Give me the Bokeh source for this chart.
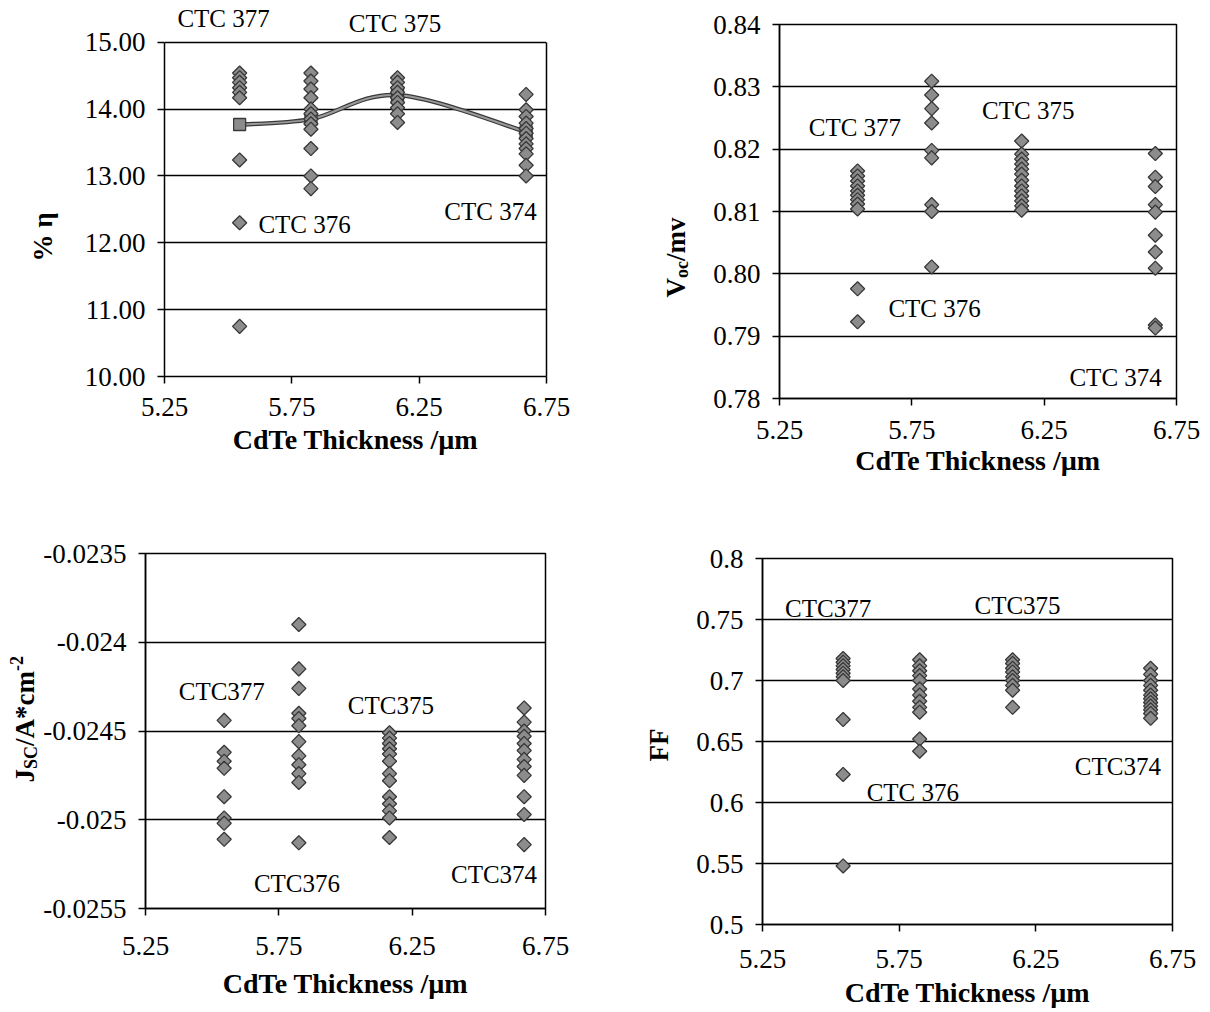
import numpy as np
from bokeh.plotting import figure
from bokeh.layouts import column, row
from bokeh.models import Label, FixedTicker, Range1d, CustomJSTickFormatter, LinearAxis
from bokeh.core.properties import value
from bokeh.embed import file_html
from bokeh.resources import INLINE

# ---------------- data ----------------
SAMPLES = ["CTC 377", "CTC 376", "CTC 375", "CTC 374"]
SAMPLE_X = [5.545, 5.825, 6.165, 6.67]          # CdTe thickness / um

X_TICKS = [5.25, 5.75, 6.25, 6.75]
X_TICK_LABELS = ["5.25", "5.75", "6.25", "6.75"]

# efficiency (%)
eta_377 = [14.54, 14.47, 14.40, 14.32, 14.25, 14.17, 13.24, 12.30, 10.75]
eta_376 = [14.54, 14.42, 14.30, 14.17, 14.00, 13.93, 13.85, 13.78, 13.70, 13.41, 13.00, 12.81]
eta_375 = [14.47, 14.40, 14.32, 14.25, 14.17, 14.10, 14.02, 13.93, 13.80]
eta_374 = [14.22, 13.99, 13.89, 13.79, 13.71, 13.64, 13.56, 13.48, 13.41, 13.33, 13.16, 13.00]
eta_mean = [13.77, 13.85, 14.21, 13.66]
ETA_TICKS = [10, 11, 12, 13, 14, 15]
ETA_TICK_LABELS = ["10.00", "11.00", "12.00", "13.00", "14.00", "15.00"]

# Voc
voc_377 = [0.8165, 0.8157, 0.8149, 0.8141, 0.8133, 0.8126, 0.8119, 0.8112, 0.8104, 0.7976, 0.7923]
voc_376 = [0.8309, 0.8287, 0.8265, 0.8242, 0.8198, 0.8186, 0.8111, 0.8100, 0.8011]
voc_375 = [0.8213, 0.8192, 0.8184, 0.8176, 0.8168, 0.8160, 0.8150, 0.8141, 0.8133, 0.8125, 0.8117, 0.8109, 0.8102]
voc_374 = [0.8193, 0.8155, 0.8140, 0.8111, 0.8099, 0.8062, 0.8035, 0.8009, 0.7918, 0.7913]
VOC_TICKS = [0.78, 0.79, 0.80, 0.81, 0.82, 0.83, 0.84]
VOC_TICK_LABELS = ["0.78", "0.79", "0.80", "0.81", "0.82", "0.83", "0.84"]

# Jsc
jsc_377 = [-0.02444, -0.02462, -0.02467, -0.02471, -0.02487, -0.02499, -0.02502, -0.02511]
jsc_376 = [-0.02390, -0.02415, -0.02426, -0.02440, -0.02443, -0.02447, -0.02456, -0.02464, -0.02469, -0.02474, -0.02479, -0.02513]
jsc_375 = [-0.02451, -0.02454, -0.02457, -0.02460, -0.02463, -0.02467, -0.02474, -0.02478, -0.02487, -0.02491, -0.02495, -0.02499, -0.02510]
jsc_374 = [-0.02437, -0.02445, -0.02450, -0.02453, -0.02457, -0.02461, -0.02466, -0.02470, -0.02475, -0.02487, -0.02497, -0.02514]
JSC_TICKS = [-0.0255, -0.025, -0.0245, -0.024, -0.0235]
JSC_TICK_LABELS = ["-0.0255", "-0.025", "-0.0245", "-0.024", "-0.0235"]

# Fill factor
ff_377 = [0.718, 0.715, 0.712, 0.709, 0.706, 0.703, 0.700, 0.668, 0.623, 0.548]
ff_376 = [0.717, 0.712, 0.708, 0.704, 0.700, 0.693, 0.688, 0.683, 0.678, 0.674, 0.652, 0.642]
ff_375 = [0.717, 0.714, 0.710, 0.707, 0.703, 0.700, 0.696, 0.692, 0.678]
ff_374 = [0.710, 0.705, 0.700, 0.696, 0.692, 0.688, 0.685, 0.682, 0.679, 0.676, 0.673, 0.669]
FF_TICKS = [0.5, 0.55, 0.6, 0.65, 0.7, 0.75, 0.8]
FF_TICK_LABELS = ["0.5", "0.55", "0.6", "0.65", "0.7", "0.75", "0.8"]

# ---------------- styling helpers ----------------
FONT = "Liberation Serif"
TICK_FS = "27px"
XTITLE_FS = "28px"
YTITLE_FS = "27px"
SMALL_FS = "18px"
ANN_FS = "25px"
FILL = "#8c8c8c"
EDGE = "#383838"


def make_fig(left, fw, right, top, fh, bottom, yrange, yticks, ylabels,
             lab_standoff, title_standoff, outline=True):
    p = figure(width=left + fw + right, height=top + fh + bottom,
               x_range=Range1d(5.25, 6.75), y_range=Range1d(*yrange),
               output_backend="svg", toolbar_location=None,
               min_border_left=left, min_border_right=right,
               min_border_top=top, min_border_bottom=bottom,
               background_fill_color="white", border_fill_color="white")
    p.outline_line_color = "black" if outline else None
    p.outline_line_width = 1.5
    p.xgrid.visible = False
    p.ygrid.grid_line_color = "black"
    p.ygrid.grid_line_width = 1.5
    p.xaxis.ticker = FixedTicker(ticks=X_TICKS)
    p.xaxis.major_label_overrides = dict(zip(X_TICKS, X_TICK_LABELS))
    p.yaxis.ticker = FixedTicker(ticks=yticks)
    p.ygrid.ticker = FixedTicker(ticks=yticks)
    p.yaxis.formatter = CustomJSTickFormatter(code="return String(tick)")
    p.yaxis.major_label_overrides = dict(zip(yticks, ylabels))
    for ax in (p.xaxis[0], p.yaxis[0]):
        ax.axis_line_color = "black"
        ax.axis_line_width = 1.5
        ax.major_tick_line_color = "black"
        ax.major_tick_line_width = 1.5
        ax.major_tick_out = 7
        ax.major_tick_in = 0
        ax.minor_tick_line_color = None
        ax.major_label_text_font = FONT
        ax.major_label_text_font_size = TICK_FS
        ax.major_label_text_color = "black"
        ax.major_label_standoff = 12
    p.xaxis.major_label_standoff = lab_standoff
    p.xaxis.axis_label = "CdTe Thickness /\u00b5m"
    p.xaxis.axis_label_text_font = FONT
    p.xaxis.axis_label_text_font_size = XTITLE_FS
    p.xaxis.axis_label_text_font_style = "bold"
    p.xaxis.axis_label_text_color = "black"
    p.xaxis.axis_label_standoff = title_standoff
    return p


def title_fig(width, top, fh, bottom, yrange):
    t = figure(width=width, height=top + fh + bottom,
               x_range=Range1d(0, width), y_range=Range1d(*yrange),
               x_axis_type=None, y_axis_type=None,
               output_backend="svg", toolbar_location=None,
               min_border_left=0, min_border_right=0,
               min_border_top=top, min_border_bottom=bottom,
               background_fill_color="white", border_fill_color="white",
               outline_line_color=None)
    return t


def add_points(p, groups):
    xs, ys = [], []
    for x, vals in zip(SAMPLE_X, groups):
        xs += [x] * len(vals)
        ys += list(vals)
    p.scatter(xs, ys, marker="square", angle=np.pi / 4, size=10,
              fill_color=FILL, line_color=EDGE, line_width=1.3)


def add_text(p, items):
    for txt, x, y in items:
        p.add_layout(Label(x=x, y=y, text=txt, text_font=FONT,
                           text_font_size=ANN_FS, text_align="center",
                           text_baseline="middle", text_color="black"))


def add_vtitle(t, x, y, px_to_y, parts):
    # parts: (text, font size, x shift px, distance along text px)
    for txt, fs, dx, dist in parts:
        t.text(x=[x + dx], y=[y + dist * px_to_y], text=[txt], angle=np.pi / 2,
               text_font=value(FONT), text_font_size=value(fs),
               text_font_style="bold", text_align="left",
               text_baseline="middle", text_color="black")


# ---------------- panel 1: efficiency ----------------
P1_YR = (10, 15.55)
p1 = make_fig(86, 382, 94, 5, 371, 124, P1_YR, ETA_TICKS, ETA_TICK_LABELS, 14, 5,
              outline=False)
p1.yaxis.bounds = (10, 15)
right_ax = LinearAxis(bounds=(10, 15), ticker=FixedTicker(ticks=[]),
                      axis_line_color="black", axis_line_width=1.5,
                      major_tick_line_color=None, minor_tick_line_color=None,
                      major_tick_out=0)
p1.add_layout(right_ax, "right")
# smoothed mean line (Catmull-Rom through the means)
mx = np.array(SAMPLE_X)
my = np.array(eta_mean)
px = np.concatenate([[mx[0]], mx, [mx[-1]]])
py = np.concatenate([[my[0]], my, [my[-1]]])
x0, y0, x1, y1 = mx[:-1], my[:-1], mx[1:], my[1:]
cx0 = px[1:-2] + (px[2:-1] - px[0:-3]) / 6.0
cy0 = py[1:-2] + (py[2:-1] - py[0:-3]) / 6.0
cx1 = px[2:-1] - (px[3:] - px[1:-2]) / 6.0
cy1 = py[2:-1] - (py[3:] - py[1:-2]) / 6.0
p1.bezier(x0=x0, y0=y0, x1=x1, y1=y1, cx0=cx0, cy0=cy0, cx1=cx1, cy1=cy1,
          line_color="#3a3a3a", line_width=4.5)
p1.bezier(x0=x0, y0=y0, x1=x1, y1=y1, cx0=cx0, cy0=cy0, cx1=cx1, cy1=cy1,
          line_color="#9a9a9a", line_width=2)
p1.scatter(SAMPLE_X, eta_mean, marker="square", size=12, fill_color=FILL,
           line_color=EDGE, line_width=1.3)
add_points(p1, [eta_377, eta_376, eta_375, eta_374])
add_text(p1, [("CTC 377", 5.482, 15.35), ("CTC 375", 6.155, 15.28),
              ("CTC 376", 5.80, 12.27), ("CTC 374", 6.53, 12.47)])
t1 = title_fig(78, 5, 371, 124, P1_YR)
add_vtitle(t1, 42, 11.72, 5 / 334.0, [("% \u03b7", YTITLE_FS, 0, 0)])

# ---------------- panel 2: Voc ----------------
P2_YR = (0.78, 0.84)
p2 = make_fig(66, 400, 26, 24, 374, 102, P2_YR, VOC_TICKS, VOC_TICK_LABELS, 15, 3)
add_points(p2, [voc_377, voc_376, voc_375, voc_374])
add_text(p2, [("CTC 377", 5.535, 0.8235), ("CTC 375", 6.19, 0.8262),
              ("CTC 376", 5.836, 0.7944), ("CTC 374", 6.52, 0.7834)])
t2 = title_fig(70, 24, 374, 102, P2_YR)
add_vtitle(t2, 35, 0.7962, 0.06 / 374.0, [("V", YTITLE_FS, 0, 0),
                                           ("oc", SMALL_FS, 6, 19.5),
                                           ("/mv", YTITLE_FS, 0, 36.5)])

# ---------------- panel 3: Jsc ----------------
P3_YR = (-0.0255, -0.0235)
p3 = make_fig(105, 400, 85, 53, 355, 102, P3_YR, JSC_TICKS, JSC_TICK_LABELS, 21, 10)
add_points(p3, [jsc_377, jsc_376, jsc_375, jsc_374])
add_text(p3, [("CTC377", 5.536, -0.02428), ("CTC375", 6.17, -0.024356),
              ("CTC376", 5.818, -0.025359), ("CTC374", 6.557, -0.025309)])
t3 = title_fig(40, 53, 355, 102, P3_YR)
add_vtitle(t3, 24, -0.02479, 0.002 / 355.0, [("J", YTITLE_FS, 0, 0),
                                              ("SC", SMALL_FS, 6, 13.5),
                                              ("/A*cm", YTITLE_FS, 0, 36.5),
                                              ("-2", SMALL_FS, -8, 111.5)])

# ---------------- panel 4: FF ----------------
P4_YR = (0.5, 0.8)
p4 = make_fig(72, 410, 30, 58, 368, 84, P4_YR, FF_TICKS, FF_TICK_LABELS, 18, 6)
add_points(p4, [ff_377, ff_376, ff_375, ff_374])
add_text(p4, [("CTC377", 5.49, 0.7592), ("CTC375", 6.183, 0.7617),
              ("CTC 376", 5.80, 0.6084), ("CTC374", 6.55, 0.6296)])
t4 = title_fig(60, 58, 368, 84, P4_YR)
add_vtitle(t4, 28, 0.6467, 0.3 / 368.0, [("FF", YTITLE_FS, 0, -16)])

top_row = row(column(row(t1, p1)), column(row(t2, p2)))
bottom_row = row(column(row(t3, p3)), column(row(t4, p4)))
layout = column(top_row, bottom_row)
open("out.html", "w").write(file_html(layout, INLINE))
